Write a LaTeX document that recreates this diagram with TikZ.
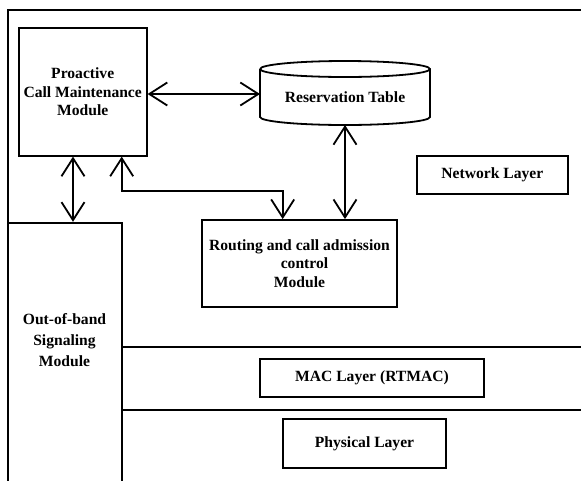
\documentclass[tikz,border=0pt]{standalone}
\usepackage{fontspec}
\setmainfont{Liberation Serif}
\usetikzlibrary{arrows.meta,calc}
\begin{document}
\begin{tikzpicture}[x=1pt,y=-1pt,
  every node/.style={font=\bfseries\fontsize{15.6}{18.5}\selectfont},
  blk/.style={draw,line width=1.8pt,inner sep=0pt,align=center},
  wire/.style={line width=1.8pt},
  dbl/.style={wire,{Straight Barb[length=18pt,width=23pt]}-{Straight Barb[length=18pt,width=23pt]}}]
\useasboundingbox (0,0) rectangle (581,480);
% outer frame (open at right and bottom)
\draw[wire] (8,490) -- (8,10) -- (590,10);
% modules
\node[blk,minimum width=128pt,minimum height=127.7pt] (pro) at (82.7,91.85)
  {Proactive\\Call Maintenance\\Module};
\node[blk,minimum width=195.6pt,minimum height=87.3pt] (rout) at (299.5,263.65)
  {Routing and call admission\\\hspace*{10pt}control\\Module};
\node[blk,minimum width=151.3pt,minimum height=38.3pt] (net) at (492.35,174.85) {Network Layer};
\node[blk,minimum width=224pt,minimum height=37.4pt] (mac) at (372,378) {MAC Layer (RTMAC)};
\node[blk,minimum width=162.4pt,minimum height=49pt] (phy) at (364.5,443.8) {Physical Layer};
% out-of-band signalling column, running off the bottom edge
\node[blk,minimum width=113.7pt,minimum height=280pt] (oob) at (64.85,362.7) {};
\node[align=center,font=\bfseries\fontsize{15.6}{20.7}\selectfont] (oobtext) at (64.5,340) {Out-of-band\\Signaling\\Module};
% layer separators
\draw[wire] (oob.east |- 0,346.7) -- (590,346.7);
\draw[wire] (oob.east |- 0,410) -- (590,410);
% reservation table cylinder
\coordinate (cw) at (260,94);
\coordinate (cs) at (345,125);
\draw[line width=1.8pt,fill=white] (260,69) -- (260,117) arc[start angle=180,end angle=360,x radius=85,y radius=-8]
  -- (430,69) arc[start angle=0,end angle=180,x radius=85,y radius=-8];
\draw[line width=1.8pt] (260,69) arc[start angle=180,end angle=360,x radius=85,y radius=-8];
\node (resv) at (345,97) {Reservation Table};
% connectors
\draw[dbl] (pro.east |- cw) -- (cw);
\draw[dbl] (cs) -- (cs |- rout.north);
\coordinate (sig) at (73,0);
\draw[dbl] (pro.south -| sig) -- (oob.north -| sig);
\coordinate (bend) at (121.7,190.7);
\coordinate (rin) at (282.7,0);
\draw[dbl] (pro.south -| bend) -- (bend) -| (rout.north -| rin);
\end{tikzpicture}
\end{document}
